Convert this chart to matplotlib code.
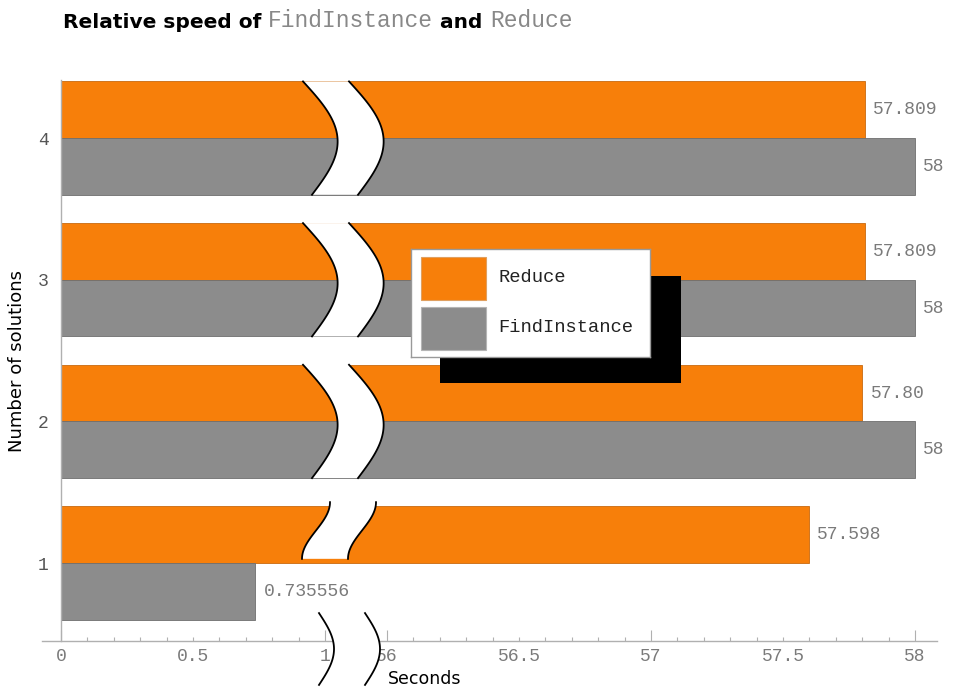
import numpy as np
import matplotlib
matplotlib.use("Agg")
import matplotlib.pyplot as plt
from matplotlib.patches import Rectangle, Polygon
from matplotlib.ticker import FixedLocator, FuncFormatter

# timings (seconds) per number of solutions
solutions = [1, 2, 3, 4]
reduce_times = [57.598, 57.80, 57.809, 57.809]
reduce_labels = ["57.598", "57.80", "57.809", "57.809"]
findinstance_times = [0.735556, 58, 58, 58]
findinstance_labels = ["0.735556", "58", "58", "58"]

x_major = [0, 1, 56, 57, 58]
x_half = [0.5, 56.5, 57.5]

ORANGE = "#f77f0a"
GRAY = "#8c8c8c"
MONO = "Liberation Mono"
TXT = "#7a7a7a"
MSIZE = 13

# broken axis: 1..56 squeezed into a short gap
GAP = 0.235
bp_in = [-10, 1, 56, 100]
bp_out = [-10, 1, 1 + GAP, 1 + GAP + 44]


def fwd(x):
    return np.interp(x, bp_in, bp_out)


def inv(x):
    return np.interp(x, bp_out, bp_in)


W, H = 957, 687
fig = plt.figure(figsize=(W / 100, H / 100), dpi=100)
ax = fig.add_axes([42 / W, 1 - 641 / H, 895 / W, 561 / H])
ax.set_xscale("function", functions=(fwd, inv))
ax.set_xlim(-0.072, 58.083)
ax.set_ylim(0.45, 4.41)

bh = 0.4
y = np.array(solutions, dtype=float)
ax.barh(y + bh / 2, reduce_times, height=bh, color=ORANGE,
        edgecolor="#c86a10", linewidth=0.6, zorder=2)
ax.barh(y - bh / 2, findinstance_times, height=bh, color=GRAY,
        edgecolor="#6e6e6e", linewidth=0.6, zorder=2)

for yi, v, s in zip(y, reduce_times, reduce_labels):
    ax.annotate(s, (v, yi + bh / 2), xytext=(6, 0), textcoords="offset points",
                va="center", ha="left", family=MONO, fontsize=MSIZE, color=TXT)
for yi, v, s in zip(y, findinstance_times, findinstance_labels):
    ax.annotate(s, (v, yi - bh / 2), xytext=(6, 0), textcoords="offset points",
                va="center", ha="left", family=MONO, fontsize=MSIZE, color=TXT)

# wavy white gaps across the bars
tr = ax.get_yaxis_transform()


def px(p):
    return (p - 42) / 895.0


def draw_break(yy, xl, zorder=3, clip=True):
    xr = xl + px(88) - px(42)
    verts = np.column_stack([np.r_[xl, xr[::-1]], np.r_[yy, yy[::-1]]])
    ax.add_patch(Polygon(verts, closed=True, facecolor="white", edgecolor="none",
                         transform=tr, zorder=zorder, clip_on=clip))
    ax.plot(xl, yy, color="black", lw=1.3, transform=tr, zorder=zorder + 1, clip_on=clip)
    ax.plot(xr, yy, color="black", lw=1.3, transform=tr, zorder=zorder + 1, clip_on=clip)


t = np.linspace(0, 1, 60)
for g in solutions:
    if findinstance_times[g - 1] > 1:
        yy = g + bh - 2 * bh * t
        xl = px(303 + 9 * t + 30 * np.sin(np.pi * t))
    else:
        yy = g + bh + 0.03 - bh * t
        xl = px(316 + 14 * np.cos(np.pi * t))
    draw_break(yy, xl)

# break marks on the x axis
yy = 0.647 - 0.507 * t
xl = px(319 + 15 * np.sin(np.pi * t))
draw_break(yy, xl, zorder=5, clip=False)

# axes styling
for s in ["top", "right"]:
    ax.spines[s].set_visible(False)
ax.spines["left"].set_position(("data", 0))
for s in ["left", "bottom"]:
    ax.spines[s].set_color("#b0b0b0")
    ax.spines[s].set_linewidth(1.0)

ax.xaxis.set_major_locator(FixedLocator(x_major))
ax.xaxis.set_major_formatter(FuncFormatter(lambda v, p: f"{v:g}"))
minor = [round(v, 1) for v in np.arange(0.1, 1.0, 0.1)] + \
        [round(v, 1) for v in np.arange(56.1, 58.0, 0.1) if abs(v - round(v)) > 0.05]
ax.xaxis.set_minor_locator(FixedLocator(minor))
ax.xaxis.set_minor_formatter(FuncFormatter(
    lambda v, p: f"{v:g}" if any(abs(v - h) < 1e-6 for h in x_half) else ""))
ax.tick_params(axis="x", which="major", direction="in", length=8, width=0.8,
               color="#b0b0b0", labelcolor=TXT, pad=5)
ax.tick_params(axis="x", which="minor", direction="in", length=3, width=0.8,
               color="#b0b0b0", labelcolor=TXT, pad=5)
for lab in ax.get_xticklabels(which="both"):
    lab.set_family(MONO)
    lab.set_fontsize(MSIZE)

ax.set_yticks(solutions)
ax.set_yticklabels([str(s) for s in solutions], family=MONO, fontsize=MSIZE)
ax.tick_params(axis="y", direction="in", length=4, color="#b0b0b0",
               labelcolor="#555555", pad=9)

ax.set_ylabel("Number of solutions", fontsize=13, family="DejaVu Sans")
ax.yaxis.set_label_coords(-0.018, 0.5)
fig.text(388 / W, 1 - 679 / H, "Seconds", fontsize=12.5, va="center", ha="left")

# legend with solid drop shadow
fig.add_artist(Rectangle((440 / W, 1 - 383 / H), 241 / W, 107 / H,
                         transform=fig.transFigure, facecolor="black",
                         edgecolor="none", zorder=1.5))
lax = fig.add_axes([411 / W, 1 - 357 / H, 239 / W, 108 / H], zorder=3)
lax.set_xlim(0, 239)
lax.set_ylim(108, 0)
lax.set_xticks([])
lax.set_yticks([])
for s in lax.spines.values():
    s.set_color("#999999")
    s.set_linewidth(1.0)
lax.add_patch(Rectangle((10, 8), 65, 43, facecolor=ORANGE, edgecolor="#e0a060", lw=0.8))
lax.add_patch(Rectangle((10, 58), 65, 43, facecolor=GRAY, edgecolor="#b5b5b5", lw=0.8))
lax.text(87, 29, "Reduce", family=MONO, fontsize=13.5, va="center", color="#222222")
lax.text(87, 79, "FindInstance", family=MONO, fontsize=13.5, va="center", color="#222222")

# title built from mixed fonts
t1 = fig.text(63 / W, 1 - 28 / H, "Relative speed of ", fontsize=14.5,
              fontweight="bold", va="baseline")
t2 = plt.annotate("FindInstance", xy=(1, 0), xycoords=t1, va="bottom",
                  family=MONO, fontsize=16.5, color="#888888")
t3 = plt.annotate(" and ", xy=(1, 0), xycoords=t2, va="bottom",
                  fontsize=14.5, fontweight="bold")
plt.annotate("Reduce", xy=(1, 0), xycoords=t3, va="bottom",
             family=MONO, fontsize=16.5, color="#888888")

fig.savefig("out.png", dpi=100)
